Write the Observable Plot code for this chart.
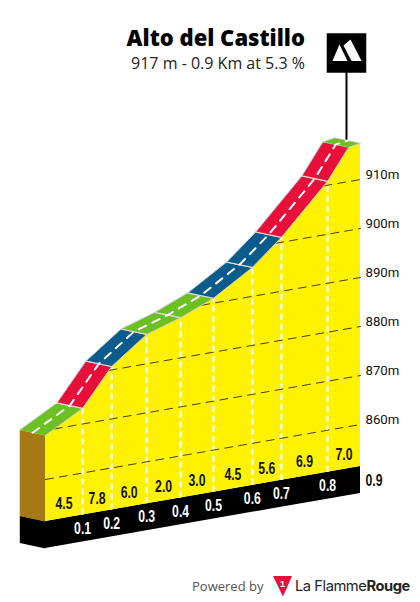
<!DOCTYPE html>
<html>
<head>
<meta charset="utf-8">
<script src="https://cdn.jsdelivr.net/npm/d3@7"></script>
<script src="https://cdn.jsdelivr.net/npm/@observablehq/plot@0.6"></script>
<style>
html,body{margin:0;padding:0;background:#fff;}
#page{position:relative;width:420px;height:602px;overflow:hidden;}
#title{position:absolute;right:115px;top:22px;font:800 22px "Open Sans",sans-serif;color:#000;white-space:nowrap;line-height:30px;}
#subtitle{position:absolute;right:115px;top:51px;font:400 16px "Open Sans",sans-serif;color:#222;white-space:nowrap;line-height:24px;}
#footer{position:absolute;left:192px;top:574px;height:24px;width:228px;}
#powered{position:absolute;left:0;top:2px;font:400 13px "Open Sans",sans-serif;color:#555;line-height:20px;}
#brand{position:absolute;left:103px;top:0;font:400 14.7px Inter,sans-serif;letter-spacing:-.45px;color:#222;line-height:24px;white-space:nowrap;}
#brand b{font-weight:700;}
#logo{position:absolute;left:81px;top:2px;}
svg{display:block;}
</style>
</head>
<body>
<div id="page">
<div id="chart"></div>
<div id="title">Alto del Castillo</div>
<div id="subtitle">917 m - 0.9 Km at 5.3 %</div>
<div id="footer">
<div id="powered">Powered by</div>
<svg id="logo" width="20" height="22" viewBox="0 0 20 22"><path d="M0 0H19L10 20.5Z" fill="#e8103a"/><text x="9.5" y="11" font-size="9" font-family="Liberation Sans" font-weight="700" fill="#fff" text-anchor="middle">1</text></svg>
<div id="brand">La Flamme<b>Rouge</b></div>
</div>
</div>
<script>
// Profile
const surfaceKm = [0, 0.106, 0.189, 0.289, 0.386, 0.48, 0.591, 0.674, 0.806, 0.866, 0.9];
const surfaceElev = [869, 873.2, 880.7, 886, 888.2, 891, 895.9, 901, 910.8, 917, 917.4];
const segmentClass = ["easy", "steep", "medium", "easy", "easy", "medium", "medium", "steep", "steep", "easy"];
const markKm = [0, 0.106, 0.189, 0.289, 0.386, 0.48, 0.591, 0.674, 0.806, 0.9];
const markLabels = ["0.1", "0.2", "0.3", "0.4", "0.5", "0.6", "0.7", "0.8"];
const gradients = ["4.5", "7.8", "6.0", "2.0", "3.0", "4.5", "5.6", "6.9", "7.0"];
const gridElev = [860, 870, 880, 890, 900, 910];
const endLabel = "0.9";
const baseElev = 851.43;
const plinthElev = 845.93;
const summitKm = 0.86;
const flagElev = 936.3;

// Oblique projection
const shear = 12.47;           // metres of lift per km, makes the ground rise to the right
const depthKm = 0.0735;        // road depth along x
const depthElev = 1.1;         // road depth along y
const sy = (km, e) => e + shear * km;
const front = (km, e) => ({x: km, y: sy(km, e)});
const back = (km, e) => ({x: km - depthKm, y: sy(km, e) + depthElev});
const elevAt = d3.scaleLinear().domain(surfaceKm).range(surfaceElev);
const kmAt = d3.scaleLinear().domain(surfaceElev).range(surfaceKm);

const poly = (id, cls, pts) => pts.map(p => ({...p, id, cls}));
const faces = [];
segmentClass.forEach((cls, i) => {
  const a = surfaceKm[i], b = surfaceKm[i + 1], ea = surfaceElev[i], eb = surfaceElev[i + 1];
  faces.push(...poly("road" + i, cls, [front(a, ea), front(b, eb), back(b, eb), back(a, ea)]));
});
const leftFaces = [
  ...poly("earth", "earth", [front(0, surfaceElev[0]), front(0, baseElev), back(0, baseElev), back(0, surfaceElev[0])]),
  ...poly("plinthL", "plinth", [front(0, baseElev), front(0, plinthElev), back(0, plinthElev), back(0, baseElev)])
];
const ends = [0, 0.9];
const groundRows = surfaceKm.map((km, i) => ({km, y1: sy(km, baseElev), y2: sy(km, surfaceElev[i])}));
const plinthRows = ends.map(km => ({km, y1: sy(km, plinthElev), y2: sy(km, baseElev)}));
const gridRows = gridElev.flatMap(e => {
  const start = e < surfaceElev[0] ? 0 : kmAt(e);
  return [{e, x: start, y: sy(start, e)}, {e, x: 0.9, y: sy(0.9, e)}];
});
const verticalRows = markKm.slice(1, -1).map(km => ({km, y1: sy(km, baseElev), y2: sy(km, elevAt(km))}));
const centerRows = surfaceKm.map((km, i) => ({
  x: km - depthKm / 2,
  y: sy(km, surfaceElev[i]) + depthElev / 2
}));
const crossRows = markKm.slice(1, -1).flatMap(km => {
  const e = elevAt(km);
  return [{km, ...front(km, e)}, {km, ...back(km, e)}];
});
const gradientRows = gradients.map((t, i) => {
  const km = (markKm[i] + markKm[i + 1]) / 2;
  return {t, x: km, y: sy(km, baseElev)};
});
const kmRows = markLabels.map((t, i) => ({t, x: markKm[i + 1], y: sy(markKm[i + 1], baseElev)}));
const summit = [{x: summitKm, y1: sy(summitKm, elevAt(summitKm)) + depthElev / 2, y2: sy(summitKm, flagElev)}];

// Mountain glyph for the flag
const peaks = {
  draw(ctx, size) {
    const k = Math.sqrt(size) / 30;
    const P = pts => {pts.forEach(([a, b], i) => i ? ctx.lineTo(a * k, b * k) : ctx.moveTo(a * k, b * k)); ctx.closePath();};
    P([[-14, 8], [-7, -8.5], [1, 8]]);
    P([[-3, -7.5], [4, -13.5], [15, 8], [5, 8]]);
  }
};

const heavy = '"Liberation Sans",sans-serif';
const chart = Plot.plot({
  width: 420,
  height: 572,
  margin: 0,
  x: {domain: [-0.12857, 1.07143], range: [0, 420], axis: null},
  y: {domain: [871.22 - (572 - 424) / 4.9, 871.22 + 424 / 4.9], range: [572, 0], axis: null},
  color: {
    domain: ["easy", "medium", "steep", "earth", "plinth"],
    range: ["#6cc024", "#0b5c8c", "#e8103a", "#a57a14", "#000000"]
  },
  style: {background: "transparent", overflow: "visible"},
  marks: [
    Plot.areaY(plinthRows, {x: "km", y1: "y1", y2: "y2", fill: "#000"}),
    Plot.line(leftFaces, {x: "x", y: "y", z: "id", fill: "cls", stroke: "none"}),
    Plot.areaY(groundRows, {x: "km", y1: "y1", y2: "y2", fill: "#fff200"}),
    Plot.ruleX(verticalRows, {x: "km", y1: "y1", y2: "y2", stroke: "#fff", strokeWidth: 2.2, strokeDasharray: "6,4"}),
    Plot.line(gridRows, {x: "x", y: "y", z: "e", stroke: "#4a3c00", strokeWidth: 1, strokeDasharray: "8,6"}),
    Plot.ruleX(summit, {x: "x", y1: "y1", y2: "y2", stroke: "#000", strokeWidth: 2}),
    Plot.line(faces, {x: "x", y: "y", z: "id", fill: "cls", stroke: "#c9cdd0", strokeWidth: 1, strokeLinejoin: "round"}),
    Plot.line(crossRows, {x: "x", y: "y", z: "km", stroke: "#e6d6d6", strokeWidth: 1.2}),
    Plot.line(centerRows, {x: "x", y: "y", stroke: "#fff", strokeWidth: 2, strokeDasharray: "8,7"}),
    Plot.dot(summit, {x: "x", y: "y2", symbol: "square", r: 22.3, fill: "#000", stroke: "none"}),
    Plot.dot(summit, {x: "x", y: "y2", symbol: peaks, r: 17, fill: "#fff", stroke: "none"}),
    Plot.text(gridElev, {
      x: 0.9, y: e => sy(0.9, e), text: e => e + "m", dx: 5, dy: -5, textAnchor: "start",
      fontSize: 13.2, fontFamily: "Roboto, sans-serif", fill: "#111"
    }),
    Plot.text(gradientRows, {
      x: "x", y: "y", text: "t", dy: -14, fontSize: 16, fontWeight: 700, fontFamily: heavy, fill: "#111", className: "cond"
    }),
    Plot.text(kmRows, {
      x: "x", y: "y", text: "t", dy: 13.5, fontSize: 16, fontWeight: 700, fontFamily: heavy, fill: "#fff", className: "cond"
    }),
    Plot.text([endLabel], {
      x: 0.9, y: () => sy(0.9, baseElev), text: d => d, dx: 5, dy: 14, textAnchor: "start",
      fontSize: 16, fontWeight: 700, fontFamily: heavy, fill: "#111", className: "cond"
    })
  ]
});
document.getElementById("chart").appendChild(chart);
// No condensed face is installed: squeeze the bold labels to the reference's width
d3.select(chart).selectAll(".cond text").attr("textLength", 17).attr("lengthAdjust", "spacingAndGlyphs");
</script>
</body>
</html>
